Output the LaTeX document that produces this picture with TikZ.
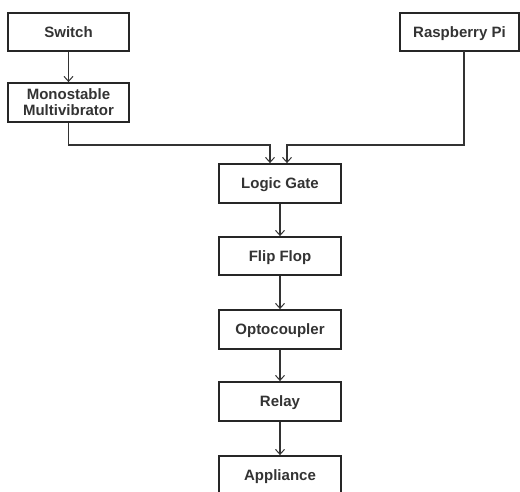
\documentclass[tikz,border=0pt]{standalone}
\usepackage{fontspec}
\setmainfont{Liberation Sans}
\usetikzlibrary{arrows.meta}
\tikzset{
  blk/.style={draw=black!85, line width=1.8pt, fill=white, align=center,
    font=\fontsize{15}{15.5}\selectfont\bfseries, text=black!80,
    inner sep=0pt, minimum height=38pt, text height=11pt, text depth=1pt},
  arr/.style={draw=black!80, line width=1.3pt, -{Straight Barb[length=5pt,width=9pt,line width=1pt]}}
}
\begin{document}
\begin{tikzpicture}[x=1pt,y=-1pt]
\clip (0,0) rectangle (520,491);
\useasboundingbox (0,0) rectangle (520,491);
\fill[white] (0,0) rectangle (520,491);
\node[blk, minimum width=121pt] (sw) at (68.5,32) {Switch};
\node[blk, minimum width=121pt, minimum height=39pt, text height=26.5pt] (mono) at (68.5,102.5) {Monostable\\Multivibrator};
\node[blk, minimum width=119pt] (rpi) at (459.5,32) {Raspberry Pi};
\node[blk, minimum width=122pt, minimum height=39pt] (lg) at (280,183.5) {Logic Gate};
\node[blk, minimum width=122pt] (ff) at (280,256) {Flip Flop};
\node[blk, minimum width=122pt, minimum height=39pt] (oc) at (280,329.5) {Optocoupler};
\node[blk, minimum width=122pt, minimum height=39pt] (rl) at (280,401.5) {Relay};
\node[blk, minimum width=122pt] (ap) at (280,475) {Appliance};
\coordinate (j1) at (270,145);
\coordinate (j2) at (287,145);
\coordinate (rp) at (464,51);
\draw[arr] (sw.south) -- (mono.north);
\draw[arr] (mono.south) |- (j1) -- (j1 |- lg.north);
\draw[arr] (rp) |- (j2) -- (j2 |- lg.north);
\draw[arr] (lg.south) -- (ff.north);
\draw[arr] (ff.south) -- (oc.north);
\draw[arr] (oc.south) -- (rl.north);
\draw[arr] (rl.south) -- (ap.north);
\end{tikzpicture}
\end{document}
